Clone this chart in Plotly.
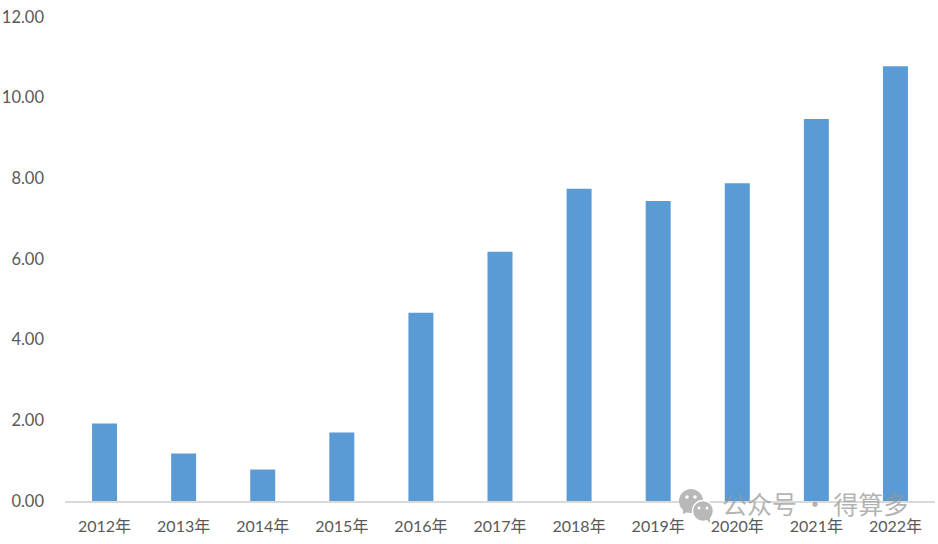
import plotly.graph_objects as go

years = ['2012年', '2013年', '2014年', '2015年', '2016年', '2017年',
         '2018年', '2019年', '2020年', '2021年', '2022年']
values = [1.92, 1.18, 0.78, 1.70, 4.67, 6.18, 7.74, 7.44, 7.88, 9.47, 10.78]
y_ticks = [0, 2, 4, 6, 8, 10, 12]

FONT = 'Lato, "Noto Sans CJK SC", sans-serif'
GREY = 'rgba(150,150,150,0.72)'
L, R, T, B = 65, 3, 17, 43
W, H = 938, 544

fig = go.Figure(go.Bar(x=years, y=values, width=0.316, marker_color='#5b9bd5', marker_line_width=0))

fig.update_xaxes(range=[-0.5, 10.5], showgrid=False, showline=True, linecolor='#d9d9d9', linewidth=2, ticks='',
                 ticklabelstandoff=10,
                 tickfont=dict(size=16, color='#595959', family=FONT))
fig.update_yaxes(range=[0, 12], tickvals=y_ticks, tickformat='.2f', showgrid=False, zeroline=False,
                 showline=False, ticks='', ticklabelstandoff=20,
                 tickfont=dict(size=16.5, color='#595959', family=FONT))


# watermark positions in page pixels, paper coords only cover the plot area
def px_x(v):
    return (v - L) / (W - L - R)


def px_y(v):
    return 1 - (v - T) / (H - T - B)


def circle(cx, cy, r, color, line=None):
    return dict(type='circle', xref='paper', yref='paper', layer='above',
                x0=px_x(cx - r), x1=px_x(cx + r), y0=px_y(cy + r), y1=px_y(cy - r),
                fillcolor=color, line=dict(color=line or color, width=1.5 if line else 0))


shapes = [
    circle(691, 501, 12, '#b8b8b8'),
    dict(type='path', xref='paper', yref='paper', layer='above', fillcolor='#b8b8b8', line_width=0,
         path=f'M {px_x(683)} {px_y(508)} L {px_x(683)} {px_y(514)} L {px_x(690)} {px_y(511)} Z'),
    circle(703, 511, 10.5, '#b8b8b8', 'white'),
    dict(type='path', xref='paper', yref='paper', layer='above', fillcolor='#b8b8b8', line_width=0,
         path=f'M {px_x(706)} {px_y(519)} L {px_x(710)} {px_y(523)} L {px_x(710)} {px_y(517)} Z'),
    circle(687, 497, 1.8, 'white'),
    circle(695, 497, 1.8, 'white'),
    circle(699, 508, 1.5, 'white'),
    circle(707, 508, 1.5, 'white'),
]

fig.update_layout(
    width=W, height=H,
    margin=dict(l=L, r=R, t=T, b=B),
    plot_bgcolor='white', paper_bgcolor='white',
    showlegend=False, shapes=shapes,
    annotations=[dict(text='公众号 · 得算多', xref='paper', yref='paper', x=px_x(815), y=px_y(503),
                      xanchor='center', yanchor='middle', showarrow=False,
                      font=dict(size=25, color=GREY, family='"Noto Sans CJK SC", sans-serif'))],
)

# page margin would push the fixed size figure off by 8px
fig.write_html("out.html", config=dict(displayModeBar=False),
               post_script="document.body.style.margin='0';")
